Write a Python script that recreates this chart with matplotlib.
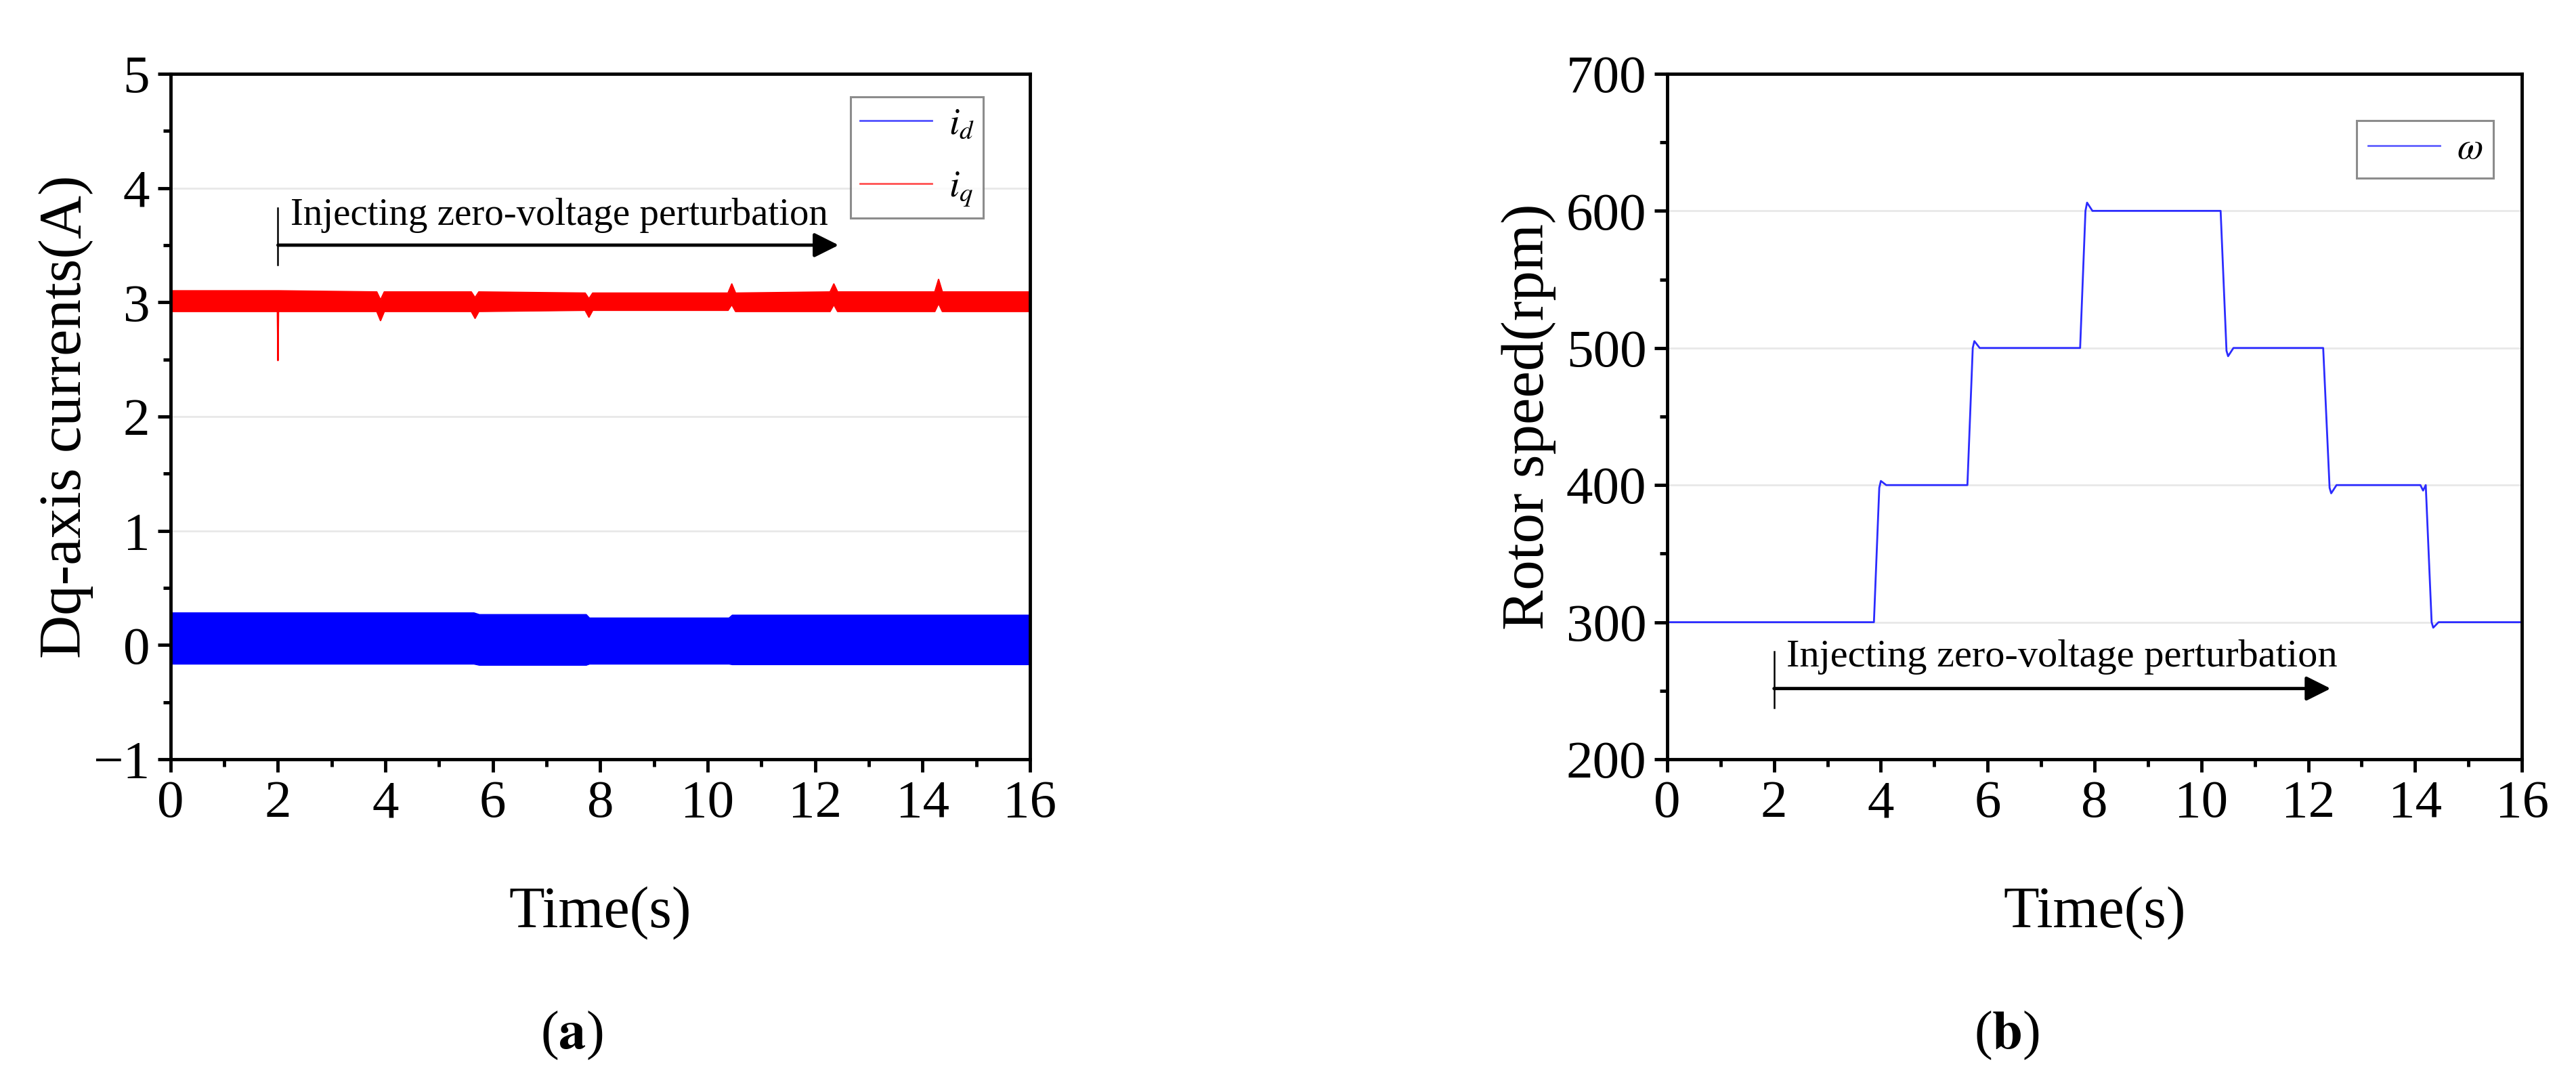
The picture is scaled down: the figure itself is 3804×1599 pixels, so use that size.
import numpy as np
import matplotlib
matplotlib.use("Agg")
import matplotlib.pyplot as plt
from matplotlib.ticker import MultipleLocator

plt.rcParams["font.family"] = ["Liberation Serif", "DejaVu Serif"]
plt.rcParams["mathtext.fontset"] = "stix"

# ---- (a) dq-axis currents: envelope of the dense ripple band ----
t_id = [0, 5.65, 5.75, 7.74, 7.80, 10.40, 10.46, 16]
id_hi = [0.28, 0.28, 0.265, 0.265, 0.235, 0.235, 0.26, 0.26]
id_lo = [-0.165, -0.165, -0.175, -0.175, -0.165, -0.165, -0.17, -0.17]

t_iq = [0, 1.99, 2.0, 2.01, 3.84, 3.91, 3.98, 5.60, 5.67, 5.74,
        7.72, 7.79, 7.86, 10.38, 10.45, 10.52, 12.28, 12.35, 12.42,
        14.23, 14.30, 14.37, 16]
iq_hi = [3.10, 3.10, 3.10, 3.10, 3.09, 3.02, 3.09, 3.09, 3.04, 3.09,
         3.08, 3.03, 3.08, 3.08, 3.16, 3.08, 3.09, 3.16, 3.09,
         3.09, 3.20, 3.09, 3.09]
iq_lo = [2.92, 2.92, 2.49, 2.92, 2.92, 2.84, 2.92, 2.92, 2.86, 2.92,
         2.93, 2.87, 2.93, 2.93, 2.98, 2.92, 2.92, 2.98, 2.92,
         2.92, 2.99, 2.92, 2.92]

# ---- (b) rotor speed ----
t_w = [0, 3.87, 3.97, 4.00, 4.10, 5.62, 5.72, 5.75, 5.85, 7.73, 7.83, 7.86, 7.96,
       10.36, 10.47, 10.50, 10.60, 12.28, 12.40, 12.43, 12.53, 14.10, 14.15, 14.20,
       14.31, 14.34, 14.44, 16]
w = [300, 300, 398, 403, 400, 400, 500, 505, 500, 500, 600, 606, 600,
     600, 498, 494, 500, 500, 398, 394, 400, 400, 396, 400,
     300, 296, 300, 300]

note = "Injecting zero-voltage perturbation"

fig = plt.figure(figsize=(38.04, 15.99), dpi=100)
ax1 = fig.add_axes([0.0662, 0.2989, 0.3336, 0.633])
ax2 = fig.add_axes([0.6472, 0.2989, 0.3318, 0.633])

def style(ax):
    for s in ax.spines.values():
        s.set_linewidth(3.5)
    ax.tick_params(which="both", direction="out", top=False, right=False,
                   width=3.5, labelsize=57, pad=8)
    ax.tick_params(which="major", length=14)
    ax.tick_params(which="minor", length=8)
    ax.yaxis.grid(True, which="major", color="#e8e8e8", lw=2)
    ax.set_axisbelow(True)
    ax.set_xlim(0, 16)
    ax.xaxis.set_major_locator(MultipleLocator(2))
    ax.xaxis.set_minor_locator(MultipleLocator(1))
    ax.set_xlabel("Time(s)", fontsize=62)
    ax.xaxis.set_label_coords(0.5, -0.185)

def legend_style(leg, colors):
    leg.get_frame().set_linewidth(2.2)
    for ln, c in zip(leg.get_lines(), colors):
        ln.set_linewidth(2)
        ln.set_color(c)

# left panel
ax1.fill_between(t_id, id_lo, id_hi, color="#0000ff", lw=0)
ax1.plot(t_id, id_hi, color="#0000ff", lw=1.5, label="$i_d$")
ax1.plot(t_id, id_lo, color="#0000ff", lw=1.5)
ax1.fill_between(t_iq, iq_lo, iq_hi, color="#ff0000", lw=0)
ax1.plot(t_iq, iq_hi, color="#ff0000", lw=1.5, label="$i_q$")
ax1.plot(t_iq, iq_lo, color="#ff0000", lw=1.5)
ax1.set_ylim(-1, 5)
ax1.yaxis.set_major_locator(MultipleLocator(1))
ax1.yaxis.set_minor_locator(MultipleLocator(0.5))
ax1.set_yticks(range(-1, 6))
ax1.set_yticklabels(["\u22121", "0", "1", "2", "3", "4", "5"])
style(ax1)
ax1.set_ylabel("Dq-axis currents(A)", fontsize=64)
ax1.yaxis.set_label_coords(-0.09, 0.5)
ax1.plot([2, 2], [3.33, 3.825], color="k", lw=1.8)
ax1.annotate("", xy=(12.44, 3.5), xytext=(2.0, 3.5),
             arrowprops=dict(arrowstyle="-|>", lw=3.5, color="k", mutation_scale=55,
                             shrinkA=0, shrinkB=0))
ax1.text(2.24, 3.68, note, fontsize=41, va="baseline")
leg1 = ax1.legend(loc="upper right", bbox_to_anchor=(0.946, 0.966), fontsize=40,
                  frameon=True, fancybox=False, edgecolor="#707070",
                  handlelength=1.9, handletextpad=0.45, labelspacing=0.75,
                  borderpad=0.25, borderaxespad=0)
legend_style(leg1, ["#5050ff", "#ff5050"])

# right panel
ax2.plot(t_w, w, color="#2b2bff", lw=2, label=r"$\omega$")
ax2.set_ylim(200, 700)
ax2.yaxis.set_major_locator(MultipleLocator(100))
ax2.yaxis.set_minor_locator(MultipleLocator(50))
style(ax2)
ax2.set_ylabel("Rotor speed(rpm)", fontsize=64)
ax2.yaxis.set_label_coords(-0.13, 0.5)
ax2.plot([2, 2], [237.7, 278.8], color="k", lw=1.8)
ax2.annotate("", xy=(12.42, 251.6), xytext=(2.0, 251.6),
             arrowprops=dict(arrowstyle="-|>", lw=3.5, color="k", mutation_scale=55,
                             shrinkA=0, shrinkB=0))
ax2.text(2.23, 267.6, note, fontsize=42, va="baseline")
leg2 = ax2.legend(loc="upper right", bbox_to_anchor=(0.967, 0.932), fontsize=40,
                  frameon=True, fancybox=False, edgecolor="#707070",
                  handlelength=1.9, handletextpad=0.45, borderpad=0.3,
                  borderaxespad=0)
legend_style(leg2, ["#6060ff"])

fig.text(0.222, 0.044, r"($\mathbf{a}$)", fontsize=58, ha="center", va="center")
fig.text(0.779, 0.044, r"($\mathbf{b}$)", fontsize=58, ha="center", va="center")

fig.savefig("out.png", dpi=100)
